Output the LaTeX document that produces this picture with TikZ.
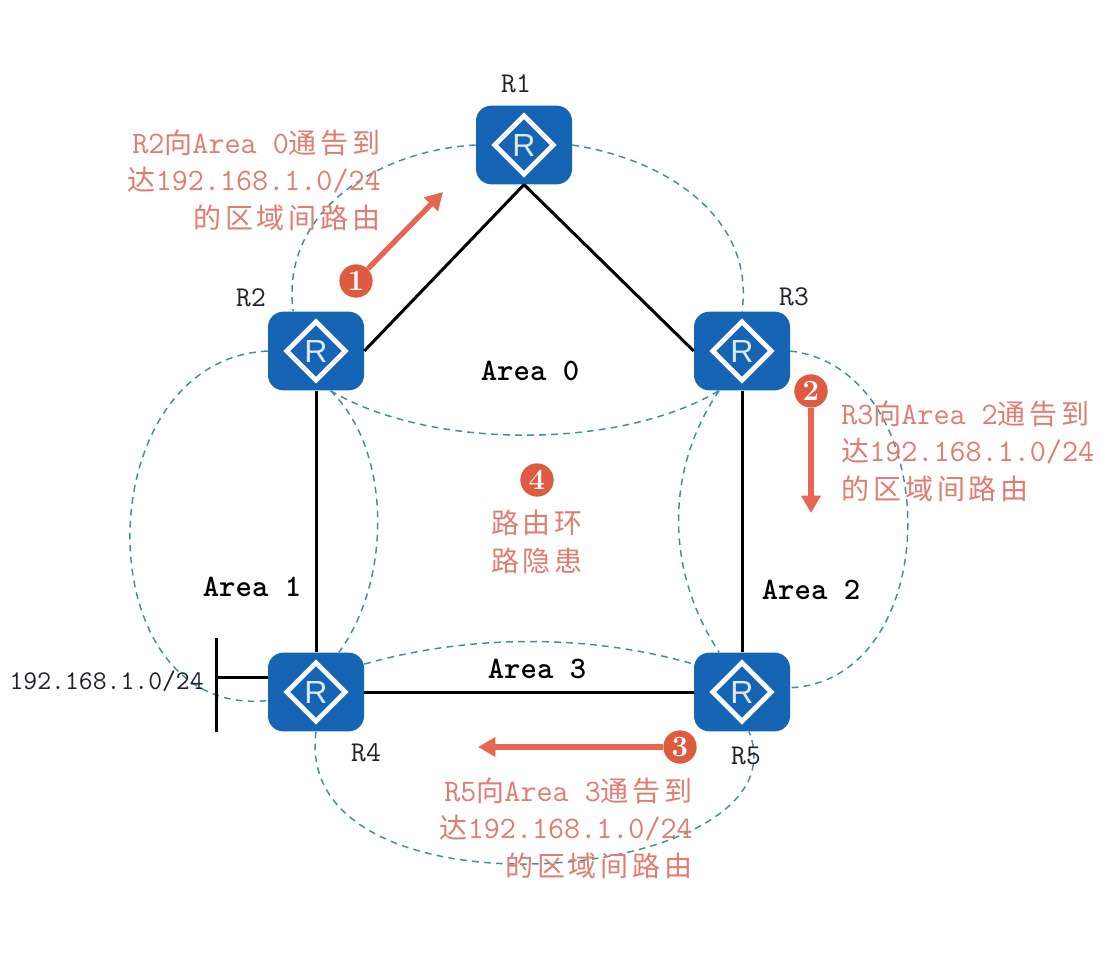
\documentclass[tikz,border=0pt]{standalone}
\usepackage{fontspec}
\setsansfont{Liberation Sans}
\newfontfamily\cjk[LetterSpace=14]{Noto Sans CJK SC}
\usetikzlibrary{arrows.meta}
\definecolor{routerblue}{HTML}{1565B4}
\definecolor{glyphtint}{HTML}{DCE9F6}
\definecolor{areateal}{HTML}{3F8F9F}
\definecolor{notered}{HTML}{E27C70}
\definecolor{arrowred}{HTML}{E8654E}
\definecolor{badgered}{HTML}{DE5B42}
\definecolor{inkdark}{HTML}{20202A}
\newcommand{\zh}[1]{{\cjk\fontsize{21}{28}\selectfont #1}}
\tikzset{
  x=0.75pt, y=-0.75pt,
  router/.style={
    rectangle, rounded corners=11.5pt, fill=routerblue,
    minimum width=72pt, minimum height=59pt, inner sep=0pt,
    text=glyphtint, font=\sffamily\fontsize{24}{24}\selectfont,
    path picture={
      \draw[white, line width=3.6pt, sharp corners, line join=miter]
        ([yshift=22pt]path picture bounding box.center)
        -- ([xshift=22pt]path picture bounding box.center)
        -- ([yshift=-22pt]path picture bounding box.center)
        -- ([xshift=-22pt]path picture bounding box.center) -- cycle;
    }},
  link/.style={draw=black, line width=2.25pt},
  area/.style={draw=areateal, line width=1.1pt, dash pattern=on 5pt off 4pt},
  rname/.style={text=inkdark, font=\ttfamily\fontsize{21.5}{24}\selectfont, inner sep=0pt},
  netname/.style={text=inkdark, font=\ttfamily\fontsize{20.2}{24}\selectfont, inner sep=0pt},
  areaname/.style={text=black, font=\ttfamily\bfseries\fontsize{23.4}{26}\selectfont, inner sep=0pt},
  note/.style={text=notered, font=\ttfamily\fontsize{23.4}{28}\selectfont, inner sep=0pt},
  badge/.style={circle, fill=badgered, text=white, minimum size=25pt, inner sep=0pt,
    font=\rmfamily\bfseries\fontsize{22}{22}\selectfont},
  flow/.style={draw=arrowred, line width=3.9pt, -{Triangle[length=13pt,width=14pt]}},
}
\begin{document}
\begin{tikzpicture}
\useasboundingbox (0,0) rectangle (1108,956);
\fill[white] (0,0) rectangle (1108,956);

% routers
\node[router] (R1) at (524,145) {R};
\node[router] (R2) at (316,351) {R};
\node[router] (R3) at (742,351) {R};
\node[router] (R4) at (316,692) {R};
\node[router] (R5) at (742,692) {R};

% area boundaries
\draw[area] (R1.180) .. controls (380,150) and (280,210) .. (R2.120);
\draw[area] (R1.0) .. controls (670,160) and (755,220) .. (R3.north);
\draw[area] (R2.-70) .. controls (430,450) and (620,450) .. (R3.-120);
\draw[area] (R2.180) .. controls (84,360) and (84,720) .. (R4.190);
\draw[area] (R2.-70) .. controls (392,450) and (392,580) .. (R4.60);
\draw[area] (R3.-120) .. controls (665,470) and (665,570) .. (R5.120);
\draw[area] (R3.0) .. controls (947,370) and (947,680) .. (R5.5);
\draw[area] (R4.30) .. controls (470,634) and (590,634) .. (R5.150);
\draw[area] (R4.south) .. controls (290,930) and (810,885) .. (R5.-80);

% links
\draw[link] (R1.south) -- (R2.east);
\draw[link] (R1.south) -- (R3.west);
\draw[link] (R2.south) -- (R4.north);
\draw[link] (R3.south) -- (R5.north);
\draw[link] (R4.east) -- (R5.west);

% attached stub network
\coordinate (busmid) at (216,677);
\coordinate (bustop) at (216,638);
\coordinate (busend) at (216,732);
\draw[link] (R4.west |- busmid) -- (busmid);
\draw[link] (bustop) -- (busend);
\node[netname, anchor=east] (net) at (204,681) {192.168.1.0/24};

% router names
\node[rname] (n1) at (516,84) {R1};
\node[rname] (n2) at (251,298) {R2};
\node[rname] (n3) at (794,297) {R3};
\node[rname] (n4) at (366,753) {R4};
\node[rname] (n5) at (746,756) {R5};

% area names
\node[areaname] (a0) at (530,371) {Area 0};
\node[areaname] (a1) at (252,587) {Area 1};
\node[areaname] (a2) at (811,590) {Area 2};
\node[areaname] (a3) at (537,669) {Area 3};

% numbered advertisements
\node[badge] (b1) at (356,281) {1};
\node[badge] (b2) at (811,391) {2};
\node[badge] (b3) at (680,747) {3};
\node[badge] (b4) at (537,480) {4};
\coordinate (e1) at (443,192);
\coordinate (e2) at (811,513);
\coordinate (e3) at (478,747);
\draw[flow] (b1) -- (e1);
\draw[flow] (b2) -- (e2);
\draw[flow] (b3) -- (e3);

\node[note, anchor=east, align=right] (t1) at (381,180)
  {R2\zh{向}Area 0\zh{通告到}\\\zh{达}192.168.1.0/24\\\zh{的区域间路由}};
\node[note, anchor=west, align=left] (t2) at (841,451)
  {R3\zh{向}Area 2\zh{通告到}\\\zh{达}192.168.1.0/24\\\zh{的区域间路由}};
\node[note, anchor=east, align=right] (t3) at (693,828)
  {R5\zh{向}Area 3\zh{通告到}\\\zh{达}192.168.1.0/24\\\zh{的区域间路由}};
\node[note, align=center] (t4) at (537,542) {\zh{路由环}\\\zh{路隐患}};
\end{tikzpicture}
\end{document}
